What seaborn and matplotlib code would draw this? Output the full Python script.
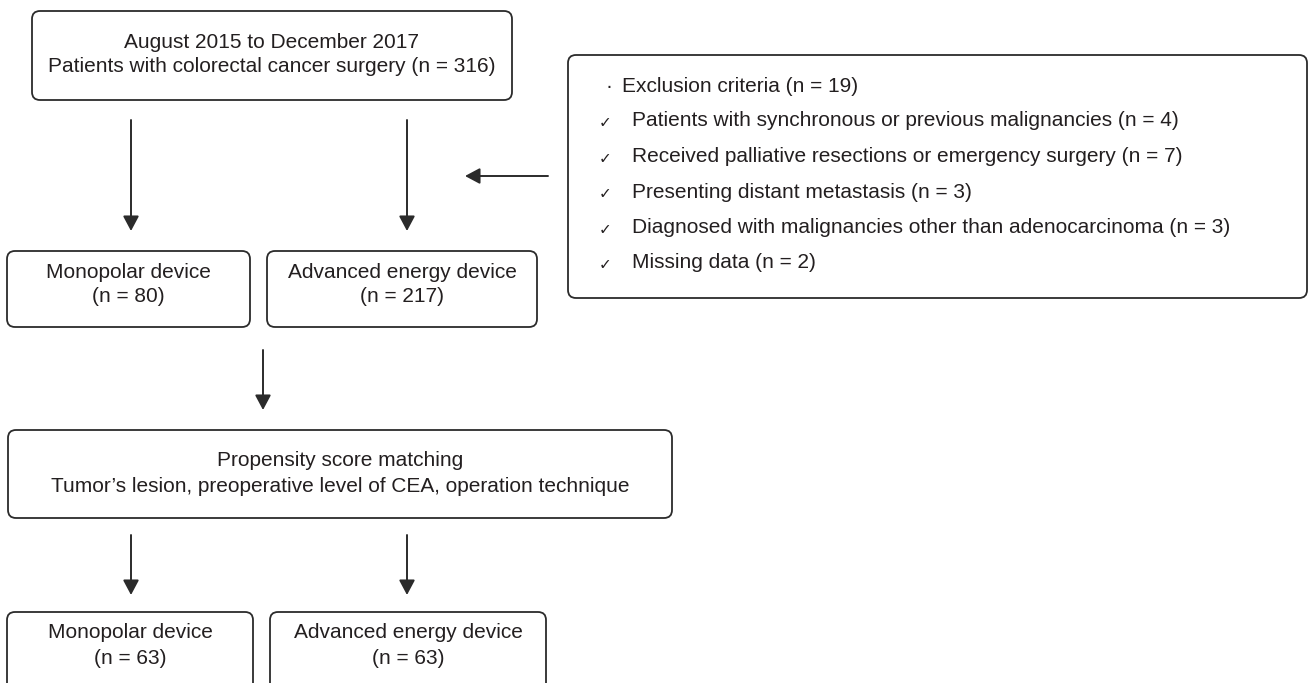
import matplotlib
matplotlib.use("Agg")
import matplotlib.pyplot as plt
import seaborn as sns
from matplotlib.patches import FancyBboxPatch

sns.set_theme(style="white")
plt.rcParams['font.family'] = ['Liberation Sans', 'DejaVu Sans']

# flow chart content
top_lines = ["August 2015 to December 2017",
             "Patients with colorectal cancer surgery (n = 316)"]
groups = ["Monopolar device", "Advanced energy device"]
n_before = [80, 217]
n_after = [63, 63]
psm_lines = ["Propensity score matching",
             "Tumor\u2019s lesion, preoperative level of CEA, operation technique"]
excl_total = 19
excl_reasons = ["Patients with synchronous or previous malignancies",
                "Received palliative resections or emergency surgery",
                "Presenting distant metastasis",
                "Diagnosed with malignancies other than adenocarcinoma",
                "Missing data"]
excl_counts = [4, 7, 3, 3, 2]

# layout in pixel units (x0, y0, x1, y1), y grows downward
W, H = 1309, 683
layout = {
    "top": (32, 11, 512, 100),
    "excl": (568, 55, 1307, 298),
    "mid": [(7, 251, 250, 327), (267, 251, 537, 327)],
    "psm": (8, 430, 672, 518),
    "bot": [(7, 612, 253, 720), (270, 612, 546, 720)],
}
edge = "#2b2b2b"
txt = "#231f20"
fs = 15

fig = plt.figure(figsize=(W / 100, H / 100), dpi=100)
ax = fig.add_axes([0, 0, 1, 1])
ax.set_xlim(0, W)
ax.set_ylim(H, 0)
ax.axis("off")


def box(x0, y0, x1, y1):
    ax.add_patch(FancyBboxPatch((x0 + 8, y0 + 8), x1 - x0 - 16, y1 - y0 - 16,
                                boxstyle="round,pad=8", fc="white",
                                ec=edge, lw=1.3))


def centered(b, lines, ys):
    cx = (b[0] + b[2]) / 2
    for s, y in zip(lines, ys):
        ax.text(cx, y, s, ha="center", va="center", fontsize=fs, color=txt)


def arrow(start, tip):
    ax.annotate("", xy=tip, xytext=start,
                arrowprops=dict(arrowstyle="-|>,head_length=0.45,head_width=0.24",
                                mutation_scale=20, lw=1.4, color=edge,
                                shrinkA=0, shrinkB=0))


box(*layout["top"])
centered(layout["top"], top_lines, [42, 67])

for b, g, n in zip(layout["mid"], groups, n_before):
    box(*b)
    centered(b, [g, f"(n = {n})"], [272, 297])

box(*layout["psm"])
centered(layout["psm"], psm_lines, [460, 486])

for b, g, n in zip(layout["bot"], groups, n_after):
    box(*b)
    centered(b, [g, f"(n = {n})"], [633, 658])

# exclusion box
box(*layout["excl"])
ex0 = layout["excl"][0]
ax.text(ex0 + 37, 86, "\u00b7", ha="left", va="center", fontsize=fs, color=txt)
ax.text(ex0 + 54, 86, "Exclusion criteria (n = %d)" % excl_total,
        ha="left", va="center", fontsize=fs, color=txt)
for i, (r, c) in enumerate(zip(excl_reasons, excl_counts)):
    y = 121 + i * 35.5
    ax.text(ex0 + 31, y + 2, "\u2713", ha="left", va="center", fontsize=11,
            color=txt, family="DejaVu Sans")
    ax.text(ex0 + 64, y, f"{r} (n = {c})", ha="left", va="center",
            fontsize=fs, color=txt)

# arrows
arrow((131, 120), (131, 231))
arrow((407, 120), (407, 231))
arrow((548, 176), (465, 176))
arrow((263, 350), (263, 410))
arrow((131, 535), (131, 595))
arrow((407, 535), (407, 595))

fig.savefig("out.png", dpi=100)
